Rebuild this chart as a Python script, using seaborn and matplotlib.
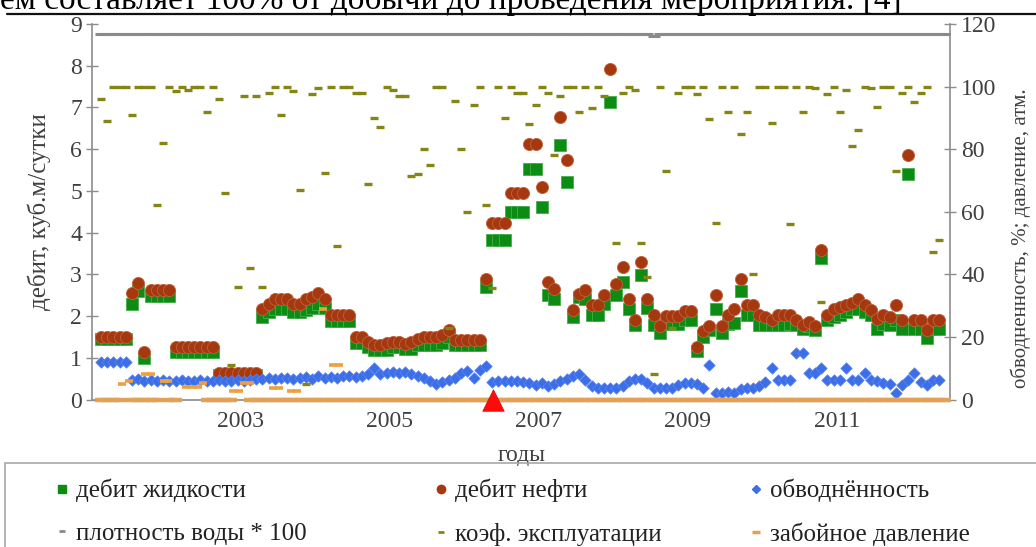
import matplotlib
matplotlib.use("Agg")
import matplotlib.pyplot as plt
from matplotlib.lines import Line2D
from matplotlib.patches import Rectangle
import numpy as np
import pandas as pd
import seaborn as sns

nan = float("nan")

# monthly records, Feb 2001 .. Jun 2012
months = pd.period_range("2001-02", "2012-06", freq="M")

# дебит жидкости, м3/сут
liquid_rate = [
    1.45, 1.45, 1.45, 1.45, 1.45, 2.30, 2.60, 1.00, 2.47, 2.47,
    2.47, 2.47, 1.15, 1.15, 1.15, 1.15, 1.15, 1.15, 1.15, 0.58,
    0.58, 0.58, 0.58, 0.58, 0.58, 0.58, 1.98, 2.10, 2.18, 2.18,
    2.18, 2.10, 2.10, 2.15, 2.20, 2.30, 2.20, 1.88, 1.88, 1.88,
    1.88, 1.35, 1.35, 1.25, 1.18, 1.18, 1.18, 1.25, 1.25, 1.20,
    1.20, 1.30, 1.30, 1.30, 1.30, 1.35, 1.50, 1.30, 1.30, 1.30,
    1.30, 1.30, 2.70, 3.82, 3.82, 3.82, 4.50, 4.50, 4.50, 5.52,
    5.52, 4.62, 2.50, 2.42, 6.10, 5.22, 1.98, 2.46, 2.42, 2.02,
    2.02, 2.30, 7.14, 2.50, 2.82, 2.18, 1.78, 2.98, 2.20, 1.78,
    1.60, 1.82, 1.82, 1.82, 1.90, 1.90, 1.17, 1.50, 1.67, 2.18,
    1.60, 1.82, 1.83, 2.60, 2.02, 2.02, 1.78, 1.78, 1.78, 1.78,
    1.78, 1.82, 1.78, 1.70, 1.75, 1.67, 3.40, 1.90, 1.97, 2.02,
    2.10, 2.18, 2.18, 2.10, 2.02, 1.70, 1.82, 1.78, 1.90, 1.70,
    5.40, 1.70, 1.70, 1.47, 1.70, 1.70, nan,
]

# дебит нефти
oil_rate = [
    1.50, 1.50, 1.50, 1.50, 1.50, 2.55, 2.80, 1.15, 2.63, 2.63,
    2.63, 2.63, 1.25, 1.25, 1.25, 1.25, 1.25, 1.25, 1.25, 0.63,
    0.63, 0.63, 0.63, 0.63, 0.63, 0.63, 2.18, 2.30, 2.42, 2.42,
    2.42, 2.30, 2.30, 2.40, 2.45, 2.55, 2.40, 2.02, 2.02, 2.02,
    2.02, 1.50, 1.50, 1.38, 1.30, 1.30, 1.35, 1.38, 1.38, 1.33,
    1.38, 1.45, 1.50, 1.50, 1.50, 1.55, 1.67, 1.43, 1.43, 1.43,
    1.43, 1.43, 2.90, 4.22, 4.22, 4.22, 4.96, 4.96, 4.96, 6.12,
    6.12, 5.10, 2.82, 2.66, 6.76, 5.75, 2.14, 2.54, 2.62, 2.26,
    2.26, 2.50, 7.91, 2.78, 3.17, 2.40, 1.90, 3.30, 2.40, 2.02,
    1.76, 2.00, 2.00, 2.00, 2.13, 2.13, 1.25, 1.65, 1.75, 2.50,
    1.75, 2.02, 2.16, 2.90, 2.26, 2.26, 2.02, 1.98, 1.90, 2.02,
    2.02, 2.02, 1.90, 1.78, 1.86, 1.75, 3.58, 2.02, 2.16, 2.22,
    2.26, 2.32, 2.40, 2.26, 2.14, 1.94, 2.02, 1.98, 2.26, 1.90,
    5.86, 1.90, 1.90, 1.67, 1.90, 1.90, nan,
]

# обводнённость, %
water_cut = [
    12.1, 12.1, 12.1, 12.1, 12.1, 6.2, 6.4, 6.0, 6.2, 6.0,
    6.2, 5.8, 6.0, 6.2, 5.8, 6.0, 6.3, 5.9, 6.0, 6.2,
    6.0, 5.8, 6.2, 6.0, 6.2, 6.4, 6.6, 6.8, 6.6, 7.0,
    6.8, 6.6, 7.0, 7.3, 6.5, 7.4, 7.0, 7.3, 7.0, 7.4,
    7.6, 7.2, 7.6, 8.0, 10.0, 8.0, 8.6, 8.8, 8.6, 8.8,
    8.3, 7.6, 7.0, 6.0, 4.8, 5.5, 6.2, 7.0, 8.4, 9.2,
    6.8, 9.4, 10.6, 5.6, 5.8, 5.8, 5.8, 5.8, 5.6, 5.2,
    4.6, 5.2, 4.4, 5.0, 5.8, 6.6, 7.4, 8.2, 6.2, 4.2,
    3.6, 3.6, 3.6, 3.6, 4.2, 5.8, 6.4, 6.4, 5.4, 3.6,
    3.6, 3.6, 3.6, 4.6, 5.4, 5.4, 4.8, 3.6, 11.0, 2.2,
    2.0, 2.4, 2.2, 3.4, 3.6, 3.6, 4.4, 5.7, 10.0, 6.2,
    6.2, 6.2, 14.8, 14.8, 8.4, 8.4, 10.0, 6.2, 6.2, 6.2,
    10.0, 6.2, 6.2, 8.4, 6.2, 6.0, 5.4, 5.0, 2.0, 4.6,
    6.2, 8.4, 5.7, 4.6, 6.2, 6.2, nan,
]

# коэф. эксплуатации, %
operating_coef = [
    96, 89, 100, 100, 100, 91, 100, 100, 100, 62,
    82, 100, 98.5, 100, 99, 100, 100, 92, 100, 96,
    66, 11, 36, 97, 42, 97, 36, 98, 100, 91,
    100, 98.5, 67, 5, 97.5, 99.4, 72.5, 100, 49, 100,
    100, 98, 98, 69, 90, 87, 100, 99, 97, 97,
    71.5, 72, 80, 75, 100, 100, 23, 95.5, 80, 60,
    94, 100, 62, 35.5, 100, 90, 100, 98, 98, 88,
    94, 100, 98, 78, 97, 100, 100, 92, 100, 93,
    100, 97, nan, 50, 98, 100, 99, 50, 39, 8,
    100, 73, 23, 98, 100, 100, 97.5, 100, 89.5, 56.5,
    100, 92, 100, 85, 92, 40, 100, 100, 88.5, 100,
    100, 56, 100, 92, 100, 99.5, 31, 97.6, 100, 92,
    99, 81, 86, 100, 99.5, 93.5, 100, 100, 73, 98,
    100, 95, 98, 100, 47, 51, nan,
]

# плотность воды * 100
density100 = [
    116.7, 116.7, 116.7, 116.7, 116.7, 116.7, 116.7, 116.7, 116.7, 116.7,
    116.7, 116.7, 116.7, 116.7, 116.7, 116.7, 116.7, 116.7, 116.7, 116.7,
    116.7, 116.7, 116.7, 116.7, 116.7, 116.7, 116.7, 116.7, 116.7, 116.7,
    116.7, 116.7, 116.7, 116.7, 116.7, 116.7, 116.7, 116.7, 116.7, 116.7,
    116.7, 116.7, 116.7, 116.7, 116.7, 116.7, 116.7, 116.7, 116.7, 116.7,
    116.7, 116.7, 116.7, 116.7, 116.7, 116.7, 116.7, 116.7, 116.7, 116.7,
    116.7, 116.7, 116.7, 116.7, 116.7, 116.7, 116.7, 116.7, 116.7, 116.7,
    116.7, 116.7, 116.7, 116.7, 116.7, 116.7, 116.7, 116.7, 116.7, 116.7,
    116.7, 116.7, 116.7, 116.7, 116.7, 116.7, 116.7, 116.7, 116.7, 116.2,
    116.7, 116.7, 116.7, 116.7, 116.7, 116.7, 116.7, 116.7, 116.7, 116.7,
    116.7, 116.7, 116.7, 116.7, 116.7, 116.7, 116.7, 116.7, 116.7, 116.7,
    116.7, 116.7, 116.7, 116.7, 116.7, 116.7, 116.7, 116.7, 116.7, 116.7,
    116.7, 116.7, 116.7, 116.7, 116.7, 116.7, 116.7, 116.7, 116.7, 116.7,
    116.7, 116.7, 116.7, 116.7, 116.7, 116.7, 116.7,
]

# забойное давление, атм (monthly) and separate measured points
bottomhole_p = [
    0, 0, 0, 0, nan, 0, 0, 0, 0, 0,
    nan, 0, 0, nan, nan, nan, nan, 0, 0, 0,
    0, 0, nan, nan, 0, 0, 0, 0, 0, 0,
    0, 0, 0, 0, 0, 0, 0, 0, 0, 0,
    0, 0, 0, 0, 0, 0, 0, 0, 0, 0,
    0, 0, 0, 0, 0, 0, 0, 0, 0, 0,
    0, 0, 0, 0, 0, 0, 0, 0, 0, 0,
    0, 0, 0, 0, 0, 0, 0, 0, 0, 0,
    0, 0, 0, 0, 0, 0, 0, 0, 0, 0,
    0, 0, 0, 0, 0, 0, 0, 0, 0, 0,
    0, 0, 0, 0, 0, 0, 0, 0, 0, 0,
    0, 0, 0, 0, 0, 0, 0, 0, 0, 0,
    0, 0, 0, 0, 0, 0, 0, 0, 0, 0,
    0, 0, 0, 0, 0, 0, 0,
]
pressure_years = [2001.41, 2001.50, 2001.72, 2001.80, 2001.97, 2002.03, 2002.27,
                  2002.35, 2002.43, 2002.50, 2002.90, 2002.98, 2003.04, 2003.12,
                  2003.44, 2003.52, 2003.67, 2003.75, 2004.11, 2004.24, 2004.32]
pressure_values = [5.0, 6.0, 8.1, 8.1, 6.0, 6.0, 4.1,
                   4.1, 4.1, 5.2, 2.8, 2.8, 5.2, 5.2,
                   3.6, 3.6, 2.8, 2.8, 29.0, 11.0, 11.0]

# мероприятие
event_year = [2006.38]
event_value = [0]

year_ticks = [2002, 2003, 2004, 2005, 2006, 2007, 2008, 2009, 2010, 2011, 2012]
year_labels = ["", "2003", "", "2005", "", "2007", "", "2009", "", "2011", ""]

t = np.asarray(months.year + (months.month - 0.5) / 12.0, dtype=float)

sns.set_style("white")
plt.rcParams["font.family"] = ["Liberation Serif", "DejaVu Serif"]

W, H = 1036, 547
fig = plt.figure(figsize=(W / 100, H / 100), dpi=100)
ax = fig.add_axes([91.7 / W, 1 - 399.5 / H, (950 - 91.7) / W, (399.5 - 24) / H])
ax2 = ax.twinx()

green = "#0d8c14"
red = "#a63810"
blue = "#3c6ee8"
olive = "#858516"
gray = "#8a8a8a"
orange = "#e0a258"

sns.scatterplot(x=t, y=liquid_rate, marker="s", s=64, color=green,
                edgecolor="#45ad4a", linewidth=0.6, ax=ax, zorder=3)
sns.scatterplot(x=t, y=oil_rate, marker="o", s=76, color=red,
                edgecolor="#c0603c", linewidth=0.6, ax=ax, zorder=4)

sns.scatterplot(x=t, y=density100, marker="_", s=70, color=gray,
                linewidth=2.2, ax=ax2, zorder=2)
sns.scatterplot(x=t, y=water_cut, marker="D", s=34, color=blue,
                edgecolor="#5b86ee", linewidth=0.5, ax=ax2, zorder=3)
sns.scatterplot(x=t, y=bottomhole_p, marker="_", s=70, color=orange,
                linewidth=3.2, ax=ax2, zorder=4, clip_on=False)
sns.scatterplot(x=pressure_years, y=pressure_values, marker="_", s=30,
                color="#eea040", linewidth=2.6, ax=ax2, zorder=4)
sns.scatterplot(x=t, y=operating_coef, marker="_", s=28, color=olive,
                linewidth=2.4, ax=ax2, zorder=5)
sns.scatterplot(x=event_year, y=event_value, marker="^", s=240, color="#ff0a0a",
                edgecolor="#e00000", linewidth=0.5, ax=ax2, zorder=6, clip_on=False)

ax.set_xlim(2001.0, 2012.52)
ax.set_ylim(0, 9)
ax2.set_ylim(0, 120)
ax.set_xticks(year_ticks)
ax.set_xticklabels(year_labels)
ax.set_yticks(range(0, 10))
ax2.set_yticks(range(0, 121, 20))

spine_c = "#8c8c8c"
text_c = "#404040"
for a in (ax, ax2):
    a.tick_params(axis="both", direction="inout", length=8, width=1,
                  colors=spine_c, labelcolor=text_c, labelsize=17)
    for s in a.spines.values():
        s.set_visible(False)
ax.tick_params(axis="x", pad=4)
ax.tick_params(axis="y", pad=3)
ax2.tick_params(axis="y", pad=4)
ax.spines["left"].set_visible(True)
ax.spines["bottom"].set_visible(True)
ax2.spines["right"].set_visible(True)
for s in (ax.spines["left"], ax.spines["bottom"], ax2.spines["right"]):
    s.set_color(spine_c)
    s.set_linewidth(1.2)

ax.set_ylabel("дебит, куб.м/сутки", fontsize=18, color=text_c)
ax.yaxis.set_label_coords(-0.048, 0.5)
ax2.set_ylabel("обводненность, %; давление, атм.", fontsize=15, color=text_c)
ax2.yaxis.set_label_coords(1.07, 0.43)
ax.set_xlabel("годы", fontsize=17, color=text_c)
ax.xaxis.set_label_coords(0.501, -0.12)

# text line of the page above the figure
fig.text(0.0, 1 - 9 / H, "ем составляет 100% от добычи до проведения мероприятия. [4]",
         fontsize=24, ha="left", va="baseline", color="black")
fig.add_artist(Line2D([7 / W, 1.0], [1 - 13.5 / H] * 2, color="#111111", lw=1.6,
                      transform=fig.transFigure))

# legend frame
fig.add_artist(Rectangle((5 / W, -0.1), 1.2, 0.1 + (1 - 463 / H), transform=fig.transFigure,
                         fill=False, edgecolor="#a8a8a8", lw=1.2))

def mk(marker, color, size, mew=1.0):
    return Line2D([], [], ls="none", marker=marker, color=color,
                  markersize=size, markeredgewidth=mew)

columns = [
    ([mk("s", green, 5.5), mk("_", gray, 4, 2)], ["дебит жидкости", "плотность воды * 100"], 56),
    ([mk("o", red, 6), mk("_", olive, 4, 2)], ["дебит нефти", "коэф. эксплуатации"], 435),
    ([mk("D", blue, 4.5), mk("_", orange, 6, 2.5)], ["обводнённость", "забойное давление"], 750),
]
for handles, labels, x in columns:
    fig.legend(handles=handles, labels=labels, loc="upper left",
               bbox_to_anchor=(x / W, 1 - 479 / H), frameon=False, fontsize=18,
               handlelength=0.5, handletextpad=0.3, borderpad=0, borderaxespad=0,
               labelspacing=0.8, labelcolor="#222222")

fig.savefig("out.png", dpi=100)
